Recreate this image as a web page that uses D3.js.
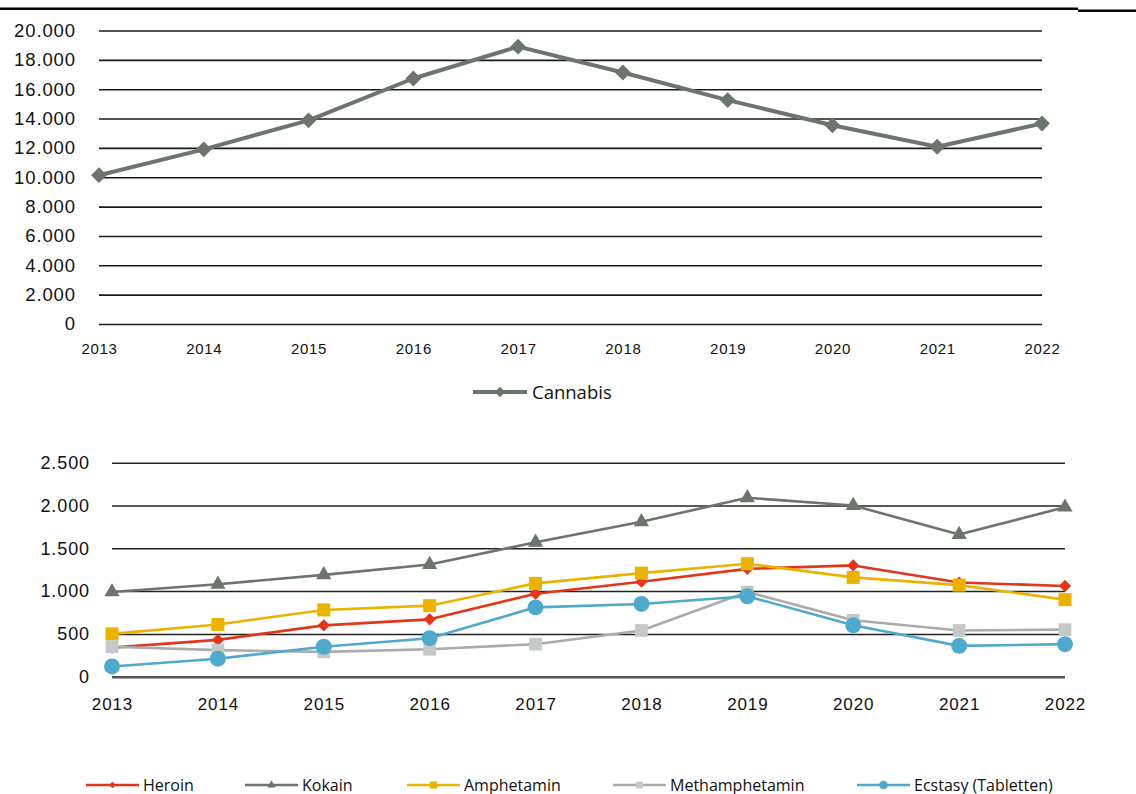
<!DOCTYPE html>
<html>
<head>
<meta charset="utf-8">
<script src="https://cdn.jsdelivr.net/npm/d3@7"></script>
<style>
  body { margin: 0; background: #fff; }
  svg { display: block; font-family: "Open Sans", sans-serif; }
</style>
</head>
<body>
<div id="chart"></div>
<script>
// data
const years = [2013, 2014, 2015, 2016, 2017, 2018, 2019, 2020, 2021, 2022]
const cannabis = [10140, 11900, 13880, 16730, 18900, 17140, 15260, 13540, 12080, 13660]
const heroin = [340, 430, 600, 670, 970, 1110, 1260, 1300, 1100, 1060]
const kokain = [990, 1080, 1190, 1310, 1570, 1810, 2090, 2000, 1660, 1980]
const amphetamin = [500, 610, 780, 830, 1090, 1210, 1320, 1160, 1070, 900]
const methamphetamin = [350, 310, 290, 320, 380, 540, 990, 660, 540, 550]
const ecstasy = [120, 210, 350, 450, 810, 850, 940, 600, 360, 380]
const topTicks = [0, 2000, 4000, 6000, 8000, 10000, 12000, 14000, 16000, 18000, 20000]
const bottomTicks = [0, 500, 1000, 1500, 2000, 2500]

const seriesBottom = [
  {name: 'Heroin', values: heroin, color: '#e2361b', marker: d3.symbolDiamond2, size: 95, fill: '#e2361b'},
  {name: 'Kokain', values: kokain, color: '#6b756c', marker: d3.symbolTriangle, size: 100, fill: '#6b756c'},
  {name: 'Amphetamin', values: amphetamin, color: '#ebb300', marker: d3.symbolSquare, size: 170, fill: '#ebb300'},
  {name: 'Methamphetamin', values: methamphetamin, color: '#a9acaa', marker: d3.symbolSquare, size: 160, fill: '#c4c8c6'},
  {name: 'Ecstasy (Tabletten)', values: ecstasy, color: '#4ea9cd', marker: d3.symbolCircle, size: 200, fill: '#4ea9cd'}
]

const W = 1136, H = 794
const de = d3.formatLocale({decimal: ',', thousands: '.', grouping: [3], currency: ['', ' €']})
const fmt = de.format(',')

const svg = d3.select('#chart').append('svg')
  .attr('width', W).attr('height', H)

// top rule
svg.append('rect').attr('x', 0).attr('y', 7.5).attr('width', 1078).attr('height', 2.5).attr('fill', '#000')
svg.append('rect').attr('x', 1078).attr('y', 9.5).attr('width', 58).attr('height', 2.5).attr('fill', '#000')

// ---------- top chart: Cannabis
const x1 = d3.scalePoint().domain(years).range([99, 1042])
const y1 = d3.scaleLinear().domain([0, 20000]).range([324, 30.5])

const gTop = svg.append('g')

const yAxis1 = d3.axisLeft(y1).tickValues(topTicks).tickFormat(fmt)
  .tickSizeInner(-(1042 - 99)).tickSizeOuter(0).tickPadding(23)
gTop.append('g').attr('transform', 'translate(99,0)').call(yAxis1)
  .call(g => g.select('.domain').remove())
  .call(g => g.selectAll('.tick line').attr('stroke', '#1a1a1a').attr('stroke-width', 1.6))
  .call(g => g.selectAll('.tick text').attr('fill', '#111').style('font-size', '18.5px').style('letter-spacing', '0.9px'))

const xAxis1 = d3.axisBottom(x1).tickSize(0).tickPadding(19.5).tickFormat(d => d)
gTop.append('g').attr('transform', 'translate(0,324)').call(xAxis1)
  .call(g => g.select('.domain').remove())
  .call(g => g.selectAll('.tick text').attr('fill', '#111').style('font-size', '15px').style('letter-spacing', '0.7px'))

const line1 = d3.line().x((d, i) => x1(years[i])).y(d => y1(d))
gTop.append('path').datum(cannabis)
  .attr('d', line1).attr('fill', 'none').attr('stroke', '#6b756c').attr('stroke-width', 4)
  .attr('stroke-linejoin', 'round')
gTop.selectAll('.cm').data(cannabis).join('path')
  .attr('class', 'cm')
  .attr('transform', (d, i) => `translate(${x1(years[i])},${y1(d)})`)
  .attr('d', d3.symbol(d3.symbolDiamond2, 160)())
  .attr('fill', '#6b756c')

// top legend
const lgTop = svg.append('g').attr('transform', 'translate(473,392)')
lgTop.append('line').attr('x1', 0).attr('x2', 54).attr('stroke', '#6b756c').attr('stroke-width', 4)
lgTop.append('path').attr('transform', 'translate(27,0)').attr('d', d3.symbol(d3.symbolDiamond2, 70)()).attr('fill', '#6b756c')
lgTop.append('text').attr('x', 59).attr('y', 6.5).text('Cannabis')
  .attr('fill', '#111').style('font-size', '18.5px')

// ---------- bottom chart
const x2 = d3.scalePoint().domain(years).range([112, 1065])
const y2 = d3.scaleLinear().domain([0, 2500]).range([676.7, 462.7])

const gBot = svg.append('g')
const yAxis2 = d3.axisLeft(y2).tickValues(bottomTicks).tickFormat(fmt)
  .tickSizeInner(-(1065 - 112)).tickSizeOuter(0).tickPadding(22)
gBot.append('g').attr('transform', 'translate(112,0)').call(yAxis2)
  .call(g => g.select('.domain').remove())
  .call(g => g.selectAll('.tick line').attr('stroke', '#222').attr('stroke-width', 1.5))
  .call(g => g.selectAll('.tick').filter(d => d === 0).select('line').attr('stroke', '#555').attr('stroke-width', 2.4))
  .call(g => g.selectAll('.tick text').attr('fill', '#111').style('font-size', '18px').style('letter-spacing', '0.9px'))

const xAxis2 = d3.axisBottom(x2).tickSize(0).tickPadding(21).tickFormat(d => d)
gBot.append('g').attr('transform', 'translate(0,676.7)').call(xAxis2)
  .call(g => g.select('.domain').remove())
  .call(g => g.selectAll('.tick text').attr('fill', '#111').style('font-size', '17px').style('letter-spacing', '0.9px'))

const line2 = d3.line().x((d, i) => x2(years[i])).y(d => y2(d))

seriesBottom.forEach(s => {
  const g = gBot.append('g')
  g.append('path').datum(s.values)
    .attr('d', line2).attr('fill', 'none').attr('stroke', s.color).attr('stroke-width', 2.6)
    .attr('stroke-linejoin', 'round')
  g.selectAll('path.mk').data(s.values).join('path')
    .attr('class', 'mk')
    .attr('transform', (d, i) => `translate(${x2(years[i])},${y2(d)})`)
    .attr('d', d3.symbol(s.marker, s.size)())
    .attr('fill', s.fill)
})

// bottom legend
const legendX = [86, 245, 407, 613, 857]
const lgBot = svg.append('g').attr('transform', 'translate(0,785)')
seriesBottom.forEach((s, i) => {
  const g = lgBot.append('g').attr('transform', `translate(${legendX[i]},0)`)
  g.append('line').attr('x1', 0).attr('x2', 53).attr('stroke', s.color).attr('stroke-width', 2.6)
  g.append('path').attr('transform', 'translate(26.5,0)')
    .attr('d', d3.symbol(s.marker, s.size * 0.3)()).attr('fill', s.fill)
  g.append('text').attr('x', 57).attr('y', 5.5).text(s.name)
    .attr('fill', '#111').style('font-size', '16px')
})
</script>
</body>
</html>
